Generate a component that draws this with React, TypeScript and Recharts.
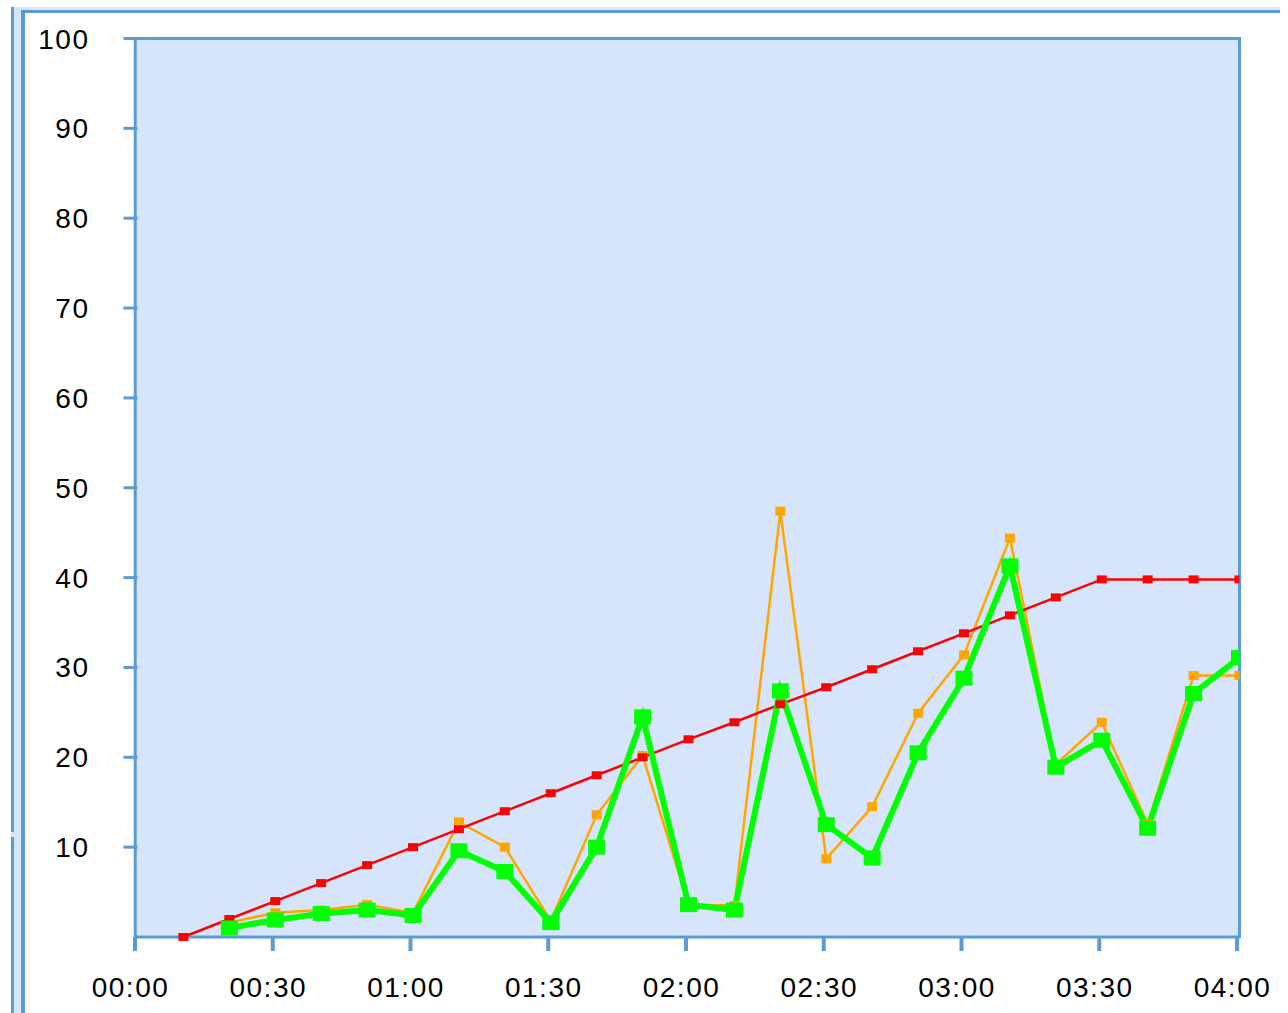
import React from 'react';
import { LineChart, Line, XAxis, YAxis, ReferenceArea } from 'recharts';

// minutes since 00:00
const minutes = [10, 20, 30, 40, 50, 60, 70, 80, 90, 100, 110, 120, 130, 140, 150, 160, 170, 180, 190, 200, 210, 220, 230, 240];
const redValues = [0, 2, 4, 6, 8, 10, 12, 14, 16, 18, 20, 22, 23.9, 25.9, 27.8, 29.8, 31.8, 33.8, 35.8, 37.8, 39.8, 39.8, 39.8, 39.8];
const orangeValues = [null, 1.6, 2.7, 3.0, 3.6, 2.7, 12.8, 10.0, 1.8, 13.6, 20.2, 3.6, 3.5, 47.4, 8.7, 14.5, 24.9, 31.4, 44.4, 19.2, 23.9, 12.6, 29.1, 29.1];
const greenValues = [null, 1.0, 1.9, 2.6, 3.0, 2.4, 9.6, 7.3, 1.6, 10.0, 24.5, 3.6, 3.0, 27.4, 12.5, 8.8, 20.5, 28.8, 41.3, 18.9, 21.9, 12.1, 27.1, 31.1];

const xTickMinutes = [0, 30, 60, 90, 120, 150, 180, 210, 240];
const xTickLabels = ['00:00', '00:30', '01:00', '01:30', '02:00', '02:30', '03:00', '03:30', '04:00'];
const yTickValues = [10, 20, 30, 40, 50, 60, 70, 80, 90, 100];

const rows = minutes.map((t, i) => ({
  t,
  red: redValues[i],
  orange: orangeValues[i],
  green: greenValues[i],
}));

const BLUE = '#5B9BD5';
const FILL = '#D6E5FC';
const FONT = '"Liberation Sans", Arial, sans-serif';

const squareDot = (w: number, h: number, color: string) => (props: any) => {
  const { cx, cy, index } = props;
  if (cx == null || cy == null || props.value == null || Number.isNaN(cy)) return <g key={`d-${index}`} />;
  return <rect key={`d-${index}`} x={cx - w / 2} y={cy - h / 2} width={w} height={h} fill={color} />;
};

const XTick = (props: any) => {
  const { x, y, payload } = props;
  const i = xTickMinutes.indexOf(payload.value);
  return (
    <g>
      <line x1={x - 2.5} x2={x - 2.5} y1={y} y2={y + 14} stroke={BLUE} strokeWidth={4} />
      <text
        x={x - 7}
        y={y + 60}
        textAnchor="middle"
        fontFamily={FONT}
        fontSize={28}
        letterSpacing={1.5}
        fill="#000"
      >
        {xTickLabels[i]}
      </text>
    </g>
  );
};

const YTick = (props: any) => {
  const { x, y, payload } = props;
  return (
    <text
      x={x - 34}
      y={y + 10}
      textAnchor="end"
      fontFamily={FONT}
      fontSize={28}
      letterSpacing={1.5}
      fill="#000"
    >
      {payload.value}
    </text>
  );
};

export default function App() {
  return (
    <div style={{ position: 'absolute', left: 0, top: 0, width: 1288, height: 1013, overflow: 'hidden', background: '#fff' }}>
      {/* window frame */}
      <div style={{ position: 'absolute', left: 11, top: 7, width: 1269, height: 1006, background: FILL }} />
      <div style={{ position: 'absolute', left: 11, top: 7, width: 3, height: 825, background: BLUE }} />
      <div style={{ position: 'absolute', left: 11, top: 837, width: 3, height: 176, background: BLUE }} />
      <div
        style={{
          position: 'absolute',
          left: 21,
          top: 10,
          width: 1259,
          height: 1003,
          background: '#fff',
          borderLeft: `4px solid ${BLUE}`,
          borderTop: `3px solid ${BLUE}`,
          boxSizing: 'border-box',
        }}
      />
      <div style={{ position: 'absolute', left: 0, top: 0 }}>
        <LineChart
          width={1288}
          height={1013}
          data={rows}
          margin={{ top: 38.5, right: 48.5, left: 37.5, bottom: 16 }}
        >
          <XAxis
            dataKey="t"
            type="number"
            domain={[0, 240]}
            ticks={xTickMinutes}
            allowDataOverflow
            axisLine={false}
            tickLine={false}
            tickSize={0}
            tickMargin={0}
            height={60}
            tick={<XTick />}
            interval={0}
          />
          <YAxis
            type="number"
            domain={[0, 100]}
            ticks={yTickValues}
            width={100}
            axisLine={false}
            tickLine={{ stroke: BLUE, strokeWidth: 3 }}
            tickSize={14}
            tickMargin={0}
            tick={<YTick />}
            interval={0}
          />
          <ReferenceArea
            x1={-0.5}
            x2={240}
            y1={0}
            y2={100}
            ifOverflow="visible"
            fill={FILL}
            fillOpacity={1}
            stroke="none"
          />
          <Line
            dataKey="orange"
            stroke="#FFA500"
            strokeWidth={2.5}
            dot={squareDot(10, 9, '#FFA500')}
            activeDot={false}
            isAnimationActive={false}
            connectNulls={false}
          />
          <Line
            dataKey="red"
            stroke="#FF0000"
            strokeWidth={2.5}
            dot={squareDot(10, 8, '#FF0000')}
            activeDot={false}
            isAnimationActive={false}
          />
          <Line
            dataKey="green"
            stroke="#00FF00"
            strokeWidth={6}
            dot={squareDot(17, 15, '#00FF00')}
            activeDot={false}
            isAnimationActive={false}
          />
          <ReferenceArea
            x1={-0.5}
            x2={240}
            y1={0}
            y2={100}
            ifOverflow="visible"
            fill="none"
            stroke={BLUE}
            strokeWidth={3}
          />
        </LineChart>
      </div>
    </div>
  );
}
